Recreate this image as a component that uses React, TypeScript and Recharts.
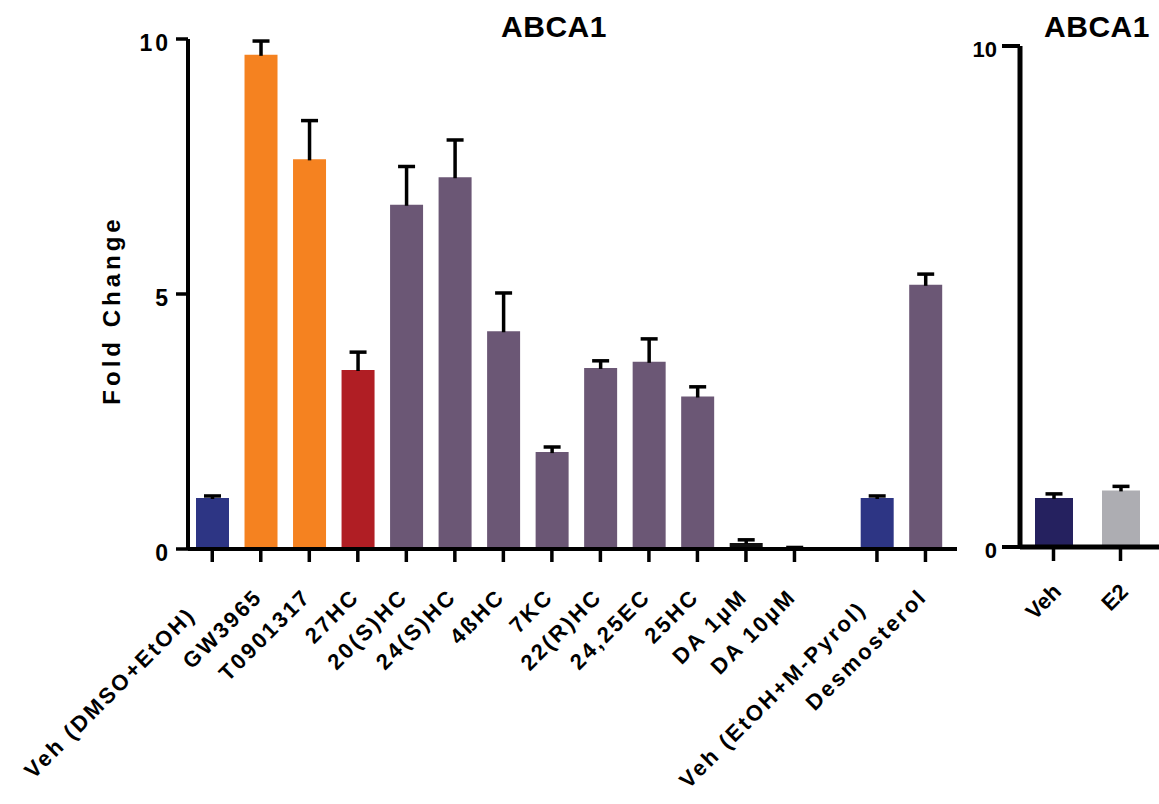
import React from 'react';
import { BarChart, Bar, XAxis, YAxis, Cell } from 'recharts';

// ---------- data ----------
const leftLabels = [
  'Veh (DMSO+EtOH)\u00a0\u00a0\u00a0',
  'GW3965',
  'T0901317',
  '27HC',
  '20(S)HC',
  '24(S)HC',
  '4ßHC',
  '7KC',
  '22(R)HC',
  '24,25EC',
  '25HC',
  'DA 1µM',
  'DA 10µM',
  'Veh (EtOH+M-Pyrol)\u00a0\u00a0',
  'Desmosterol',
];
// group positions on the x axis (a gap separates the last two groups)
const leftPositions = [1, 2, 3, 4, 5, 6, 7, 8, 9, 10, 11, 12, 13, 14.7, 15.7];
const leftValues = [1.0, 9.69, 7.64, 3.51, 6.75, 7.29, 4.27, 1.9, 3.55, 3.67, 2.99, 0.12, 0.02, 1.0, 5.18];
const leftErrors = [0.04, 0.27, 0.76, 0.35, 0.75, 0.73, 0.75, 0.1, 0.14, 0.45, 0.19, 0.06, 0.01, 0.04, 0.21];
const leftColors = [
  '#2D3584', '#F58220', '#F58220', '#B01E24', '#6B5775', '#6B5775', '#6B5775', '#6B5775',
  '#6B5775', '#6B5775', '#6B5775', '#111111', '#111111', '#2D3584', '#6B5775',
];

const rightLabels = ['Veh', 'E2'];
const rightValues = [0.98, 1.13];
const rightErrors = [0.08, 0.08];
const rightColors = ['#25215F', '#ADADB2'];

const leftYTicks = [0, 5, 10];
const rightYTicks = [0, 10];
const titleText = 'ABCA1';
const yLabelText = 'Fold Change';

const FONT = '"Liberation Sans", Arial, Helvetica, sans-serif';

const leftData = leftLabels.map((label, i) => ({
  label,
  pos: leftPositions[i],
  value: leftValues[i],
  err: leftErrors[i],
}));
const rightData = rightLabels.map((label, i) => ({
  label,
  value: rightValues[i],
  err: rightErrors[i],
}));

// ---------- custom pieces ----------
const ErrorT = (props: any) => {
  const { x, y, width, height } = props;
  if (x == null || y == null) return null;
  const cx = x + width / 2;
  const capW = 17;
  return (
    <g>
      <line x1={cx} x2={cx} y1={y + height + 1} y2={y} stroke="#000" strokeWidth={3.5} />
      <line x1={cx - capW / 2} x2={cx + capW / 2} y1={y} y2={y} stroke="#000" strokeWidth={3.5} />
    </g>
  );
};

const LeftYTick = (props: any) => {
  const { x, y, payload } = props;
  return (
    <text x={x} y={y} dy={12} textAnchor="end" fontFamily={FONT} fontWeight="bold" fontSize={23} letterSpacing={3} fill="#000">
      {payload.value}
    </text>
  );
};

const RightYTick = (props: any) => {
  const { x, y, payload } = props;
  return (
    <text x={x} y={y} dy={11} textAnchor="end" fontFamily={FONT} fontWeight="bold" fontSize={22} fill="#000">
      {payload.value}
    </text>
  );
};

const LeftXTick = (props: any) => {
  const { x, y, payload } = props;
  const idx = leftPositions.indexOf(payload.value);
  const label = idx >= 0 ? leftLabels[idx] : '';
  return (
    <g transform={`translate(${x + 3},${y + 36}) rotate(-45)`}>
      <text x={0} y={0} textAnchor="end" fontFamily={FONT} fontWeight="bold" fontSize={22} letterSpacing={2.5} fill="#000">
        {label}
      </text>
    </g>
  );
};

const RightXTick = (props: any) => {
  const { x, y, payload } = props;
  return (
    <g transform={`translate(${x + 9},${y + 32}) rotate(-45)`}>
      <text x={0} y={0} textAnchor="end" fontFamily={FONT} fontWeight="bold" fontSize={22} fill="#000">
        {payload.value}
      </text>
    </g>
  );
};

export default function App() {
  return (
    <div style={{ position: 'absolute', left: 0, top: 0, width: 1159, height: 804, background: '#fff' }}>
      {/* left panel */}
      <div style={{ position: 'absolute', left: 0, top: 0 }}>
        <BarChart
          width={980}
          height={804}
          data={leftData}
          margin={{ top: 39, right: 23, bottom: 225, left: 128 }}
        >
          <XAxis
            dataKey="pos"
            type="number"
            domain={[0.5, 16.35]}
            ticks={leftPositions}
            interval={0}
            height={30}
            tickSize={13}
            tickMargin={0}
            axisLine={{ stroke: '#000', strokeWidth: 4 }}
            tickLine={{ stroke: '#000', strokeWidth: 3.5 }}
            tick={<LeftXTick />}
          />
          <YAxis
            type="number"
            domain={[0, 10]}
            ticks={leftYTicks}
            width={60}
            tickSize={12}
            tickMargin={5}
            axisLine={{ stroke: '#000', strokeWidth: 4 }}
            tickLine={{ stroke: '#000', strokeWidth: 3.5 }}
            tick={<LeftYTick />}
          />
          <Bar dataKey="value" stackId="s" barSize={33} isAnimationActive={false}>
            {leftData.map((d, i) => (
              <Cell key={d.label} fill={leftColors[i]} />
            ))}
          </Bar>
          <Bar dataKey="err" stackId="s" barSize={33} isAnimationActive={false} shape={<ErrorT />} />
        </BarChart>
      </div>

      {/* right panel */}
      <div style={{ position: 'absolute', left: 940, top: 0 }}>
        <BarChart
          width={219}
          height={804}
          data={rightData}
          margin={{ top: 46, right: 0, bottom: 227, left: 0 }}
        >
          <XAxis
            dataKey="label"
            type="category"
            padding={{ left: 0, right: 5 }}
            interval={0}
            height={30}
            tickSize={14}
            tickMargin={0}
            axisLine={{ stroke: '#000', strokeWidth: 5 }}
            tickLine={{ stroke: '#000', strokeWidth: 3.5 }}
            tick={<RightXTick />}
          />
          <YAxis
            type="number"
            domain={[0, 10]}
            ticks={rightYTicks}
            width={80}
            tickSize={18}
            tickMargin={5}
            axisLine={{ stroke: '#000', strokeWidth: 5 }}
            tickLine={{ stroke: '#000', strokeWidth: 4 }}
            tick={<RightYTick />}
          />
          <Bar dataKey="value" stackId="s" barSize={38} isAnimationActive={false}>
            {rightData.map((d, i) => (
              <Cell key={d.label} fill={rightColors[i]} />
            ))}
          </Bar>
          <Bar dataKey="err" stackId="s" barSize={38} isAnimationActive={false} shape={<ErrorT />} />
        </BarChart>
      </div>

      {/* titles and axis label */}
      <svg width={1159} height={804} style={{ position: 'absolute', left: 0, top: 0, pointerEvents: 'none' }}>
        <text x={554} y={37} textAnchor="middle" fontFamily={FONT} fontWeight="bold" fontSize={30} letterSpacing={0.5} fill="#000">
          {titleText}
        </text>
        <text x={1097} y={37} textAnchor="middle" fontFamily={FONT} fontWeight="bold" fontSize={30} letterSpacing={0.5} fill="#000">
          {titleText}
        </text>
        <text
          x={120}
          y={310}
          transform="rotate(-90 120 310)"
          textAnchor="middle"
          fontFamily={FONT}
          fontWeight="bold"
          fontSize={24}
          letterSpacing={4}
          fill="#000"
        >
          {yLabelText}
        </text>
      </svg>
    </div>
  );
}
